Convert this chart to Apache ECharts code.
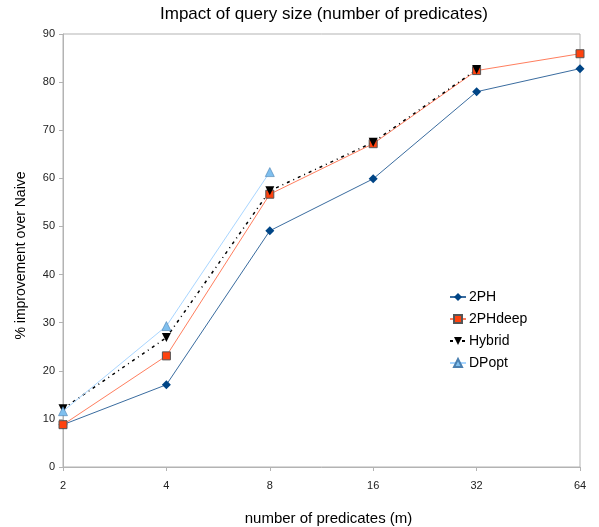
<!DOCTYPE html>
<html>
<head>
<meta charset="utf-8">
<script src="https://cdn.jsdelivr.net/npm/echarts@6/dist/echarts.min.js"></script>
<style>
    html, body { margin: 0; padding: 0; background: #fff; }
    #chart { width: 599px; height: 527px; }
</style>
</head>
<body>
<div id="chart"></div>
<script>
// 数据
var categories = ['2', '4', '8', '16', '32', '64'];
var yTicks = [0, 10, 20, 30, 40, 50, 60, 70, 80, 90];
var twoPH = [8.8, 17.1, 49.1, 59.9, 78.0, 82.8];
var twoPHdeep = [8.8, 23.1, 56.7, 67.2, 82.4, 85.9];
var hybrid = [12.1, 26.9, 57.4, 67.5, 82.6, null];
var dpopt = [11.6, 29.3, 61.3, null, null, null];

var font = 'Liberation Sans';

var myChart = echarts.init(document.getElementById('chart'));

var option = {
    animation: false,
    backgroundColor: '#fff',
    title: {
        text: 'Impact of query size (number of predicates)',
        left: 155,
        top: 1,
        textStyle: { fontFamily: font, fontSize: 17, fontWeight: 'normal', color: '#000' }
    },
    legend: {
        orient: 'vertical',
        left: 444,
        top: 285,
        itemGap: 8,
        itemWidth: 16,
        itemHeight: 10,
        textStyle: { fontFamily: font, fontSize: 14, color: '#000', padding: [0, 0, 0, -2] },
        data: ['2PH', '2PHdeep', 'Hybrid', 'DPopt']
    },
    grid: {
        left: 63,
        right: 19,
        top: 34,
        bottom: 60,
        outerBoundsMode: 'none',
        show: true,
        borderColor: '#b3b3b3',
        borderWidth: 1
    },
    xAxis: {
        type: 'category',
        data: categories,
        boundaryGap: false,
        name: 'number of predicates (m)',
        nameLocation: 'middle',
        nameGap: 44,
        nameTextStyle: { fontFamily: font, fontSize: 15, color: '#000', padding: [0, 0, 0, 14] },
        axisLine: { lineStyle: { color: '#b3b3b3' } },
        axisTick: { show: true, length: 4, lineStyle: { color: '#b3b3b3' } },
        axisLabel: { fontFamily: font, fontSize: 11, color: '#222', margin: 13 },
        splitLine: { show: false }
    },
    yAxis: {
        type: 'value',
        min: yTicks[0],
        max: yTicks[yTicks.length - 1],
        interval: 10,
        name: '% improvement over Naive',
        nameLocation: 'middle',
        nameGap: 35,
        nameTextStyle: { fontFamily: font, fontSize: 14, color: '#000', padding: [0, 10, 0, 0] },
        axisLine: { show: true, lineStyle: { color: '#b3b3b3' } },
        axisTick: { show: true, length: 4, lineStyle: { color: '#b3b3b3' } },
        axisLabel: { fontFamily: font, fontSize: 11, color: '#222', margin: 8 },
        splitLine: { show: false }
    },
    series: [{
        name: '2PH',
        type: 'line',
        data: twoPH,
        symbol: 'diamond',
        symbolSize: 9,
        itemStyle: { color: '#004586' },
        lineStyle: { color: '#3a6c9f', width: 1 }
    }, {
        name: '2PHdeep',
        type: 'line',
        data: twoPHdeep,
        symbol: 'rect',
        symbolSize: 8,
        itemStyle: { color: '#ff420e', borderColor: '#555', borderWidth: 1 },
        lineStyle: { color: '#ff7e5e', width: 1 }
    }, {
        name: 'Hybrid',
        type: 'line',
        data: hybrid,
        symbol: 'triangle',
        symbolRotate: 180,
        symbolSize: 9,
        itemStyle: { color: '#000' },
        lineStyle: { color: '#000', width: 1.5, type: [3, 4, 1, 4] }
    }, {
        name: 'DPopt',
        type: 'line',
        data: dpopt,
        symbol: 'triangle',
        symbolSize: 9,
        itemStyle: { color: '#7fbfee', borderColor: '#4a7fb0', borderWidth: 0.6 },
        lineStyle: { color: '#a9d6ff', width: 1 }
    }]
};

myChart.setOption(option);
</script>
</body>
</html>
